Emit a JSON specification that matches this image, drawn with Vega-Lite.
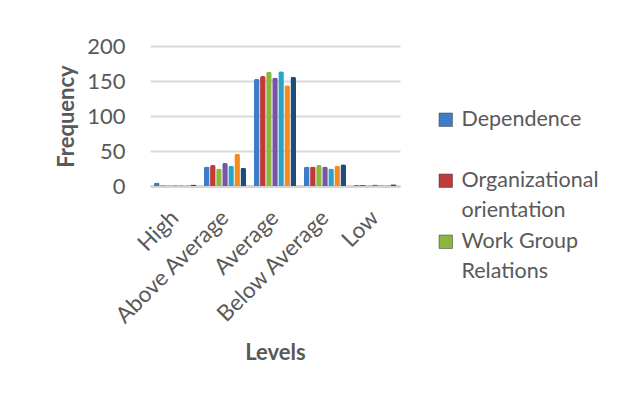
{
  "$schema": "https://vega.github.io/schema/vega-lite/v6.json",
  "width": 250,
  "height": 140,
  "autosize": "none",
  "padding": {"left": 150, "top": 46, "right": 233, "bottom": 212},
  "background": "white",
  "data": {"values": [
    {"level": "High", "series": "Dependence", "freq": 5},
    {"level": "High", "series": "Organizational orientation", "freq": 1},
    {"level": "High", "series": "Work Group Relations", "freq": 1},
    {"level": "High", "series": "Series 4", "freq": 1},
    {"level": "High", "series": "Series 5", "freq": 1},
    {"level": "High", "series": "Series 6", "freq": 1},
    {"level": "High", "series": "Series 7", "freq": 2},
    {"level": "Above Average", "series": "Dependence", "freq": 28},
    {"level": "Above Average", "series": "Organizational orientation", "freq": 30},
    {"level": "Above Average", "series": "Work Group Relations", "freq": 25},
    {"level": "Above Average", "series": "Series 4", "freq": 33},
    {"level": "Above Average", "series": "Series 5", "freq": 29},
    {"level": "Above Average", "series": "Series 6", "freq": 46},
    {"level": "Above Average", "series": "Series 7", "freq": 26},
    {"level": "Average", "series": "Dependence", "freq": 153},
    {"level": "Average", "series": "Organizational orientation", "freq": 157},
    {"level": "Average", "series": "Work Group Relations", "freq": 163},
    {"level": "Average", "series": "Series 4", "freq": 155},
    {"level": "Average", "series": "Series 5", "freq": 164},
    {"level": "Average", "series": "Series 6", "freq": 144},
    {"level": "Average", "series": "Series 7", "freq": 156},
    {"level": "Below Average", "series": "Dependence", "freq": 28},
    {"level": "Below Average", "series": "Organizational orientation", "freq": 28},
    {"level": "Below Average", "series": "Work Group Relations", "freq": 30},
    {"level": "Below Average", "series": "Series 4", "freq": 28},
    {"level": "Below Average", "series": "Series 5", "freq": 25},
    {"level": "Below Average", "series": "Series 6", "freq": 29},
    {"level": "Below Average", "series": "Series 7", "freq": 31},
    {"level": "Low", "series": "Dependence", "freq": 1.5},
    {"level": "Low", "series": "Organizational orientation", "freq": 1.5},
    {"level": "Low", "series": "Work Group Relations", "freq": 1},
    {"level": "Low", "series": "Series 4", "freq": 2},
    {"level": "Low", "series": "Series 5", "freq": 1},
    {"level": "Low", "series": "Series 6", "freq": 1},
    {"level": "Low", "series": "Series 7", "freq": 2.5}
  ]},
  "mark": {"type": "bar", "cornerRadiusTopLeft": 2, "cornerRadiusTopRight": 2},
  "encoding": {
    "x": {
      "field": "level", "type": "nominal",
      "sort": ["High", "Above Average", "Average", "Below Average", "Low"],
      "scale": {"paddingInner": 0.16, "paddingOuter": 0.08},
      "axis": {
        "title": "Levels", "titleFont": "Lato", "titleFontSize": 22, "titleFontWeight": "bold",
        "titleColor": "#595959", "titleY": 166, "titleBaseline": "middle",
        "labelFont": "Lato", "labelFontSize": 22.5, "labelColor": "#595959",
        "labelAngle": -45, "labelAlign": "right", "labelBaseline": "middle",
        "labelPadding": 28, "ticks": false, "domainColor": "#d4d4d4", "domainWidth": 3
      }
    },
    "xOffset": {
      "field": "series", "type": "nominal",
      "sort": ["Dependence", "Organizational orientation", "Work Group Relations", "Series 4", "Series 5", "Series 6", "Series 7"],
      "scale": {"paddingInner": 0.08}
    },
    "y": {
      "field": "freq", "type": "quantitative",
      "scale": {"domain": [0, 200]},
      "axis": {
        "title": "Frequency", "titleFont": "Lato", "titleFontSize": 22, "titleFontWeight": "bold",
        "titleColor": "#595959", "titleX": -84, "titleBaseline": "middle",
        "values": [0, 50, 100, 150, 200],
        "labelFont": "Lato", "labelFontSize": 22, "labelColor": "#595959",
        "labelPadding": 25, "ticks": false, "domain": false,
        "gridColor": "#d9d9d9", "gridWidth": 2
      }
    },
    "color": {
      "field": "series", "type": "nominal",
      "scale": {
        "domain": ["Dependence", "Organizational orientation", "Work Group Relations", "Series 4", "Series 5", "Series 6", "Series 7"],
        "range": ["#3d7cc9", "#c0393b", "#8cb63c", "#7a54a4", "#2aa3c8", "#f58a1f", "#1f4d7a"]
      },
      "legend": {
        "title": null,
        "values": ["Dependence", "Organizational orientation", "Work Group Relations"],
        "orient": "none", "legendX": 285, "legendY": 63,
        "symbolType": "square", "symbolSize": 180, "symbolStrokeColor": "#333333", "symbolStrokeWidth": 0.5,
        "labelFont": "Lato", "labelFontSize": 21.5, "labelColor": "#595959", "labelLimit": 300,
        "labelBaseline": "middle", "labelOffset": 5,
        "labelExpr": "datum.label == 'Organizational orientation' ? ['Organizational', 'orientation'] : datum.label == 'Work Group Relations' ? ['Work Group', 'Relations'] : ['Dependence', ' ']",
        "rowPadding": 8
      }
    }
  },
  "config": {"view": {"stroke": null}, "style": {"guide-label": {"lineHeight": 30}}}
}
